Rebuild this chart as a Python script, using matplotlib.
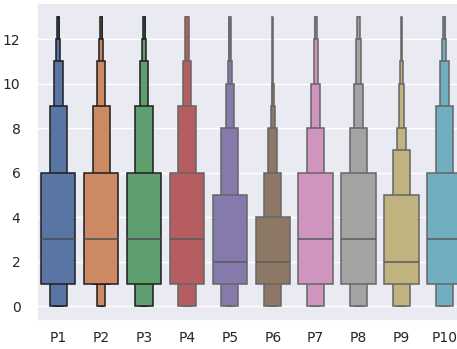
import matplotlib
matplotlib.use("Agg")
import matplotlib.pyplot as plt
import seaborn as sns
import numpy as np

# ---- data (letter values) ----
categories = ["P1", "P2", "P3", "P4", "P5", "P6", "P7", "P8", "P9", "P10"]
medians = [3, 3, 3, 3, 2, 2, 3, 3, 2, 3]
# one list per letter-value level (level 1 = widest box = IQR)
level1_lo = [1, 1, 1, 1, 1, 1, 1, 1, 1, 1]
level1_hi = [6, 6, 6, 6, 5, 4, 6, 6, 5, 6]
level2_lo = [0, 1, 0, 0, 0, 0, 0, 0, 0, 0]
level2_hi = [9, 9, 9, 9, 8, 6, 8, 8, 7, 9]
level3_lo = [0, 0, 0, 0, 0, 0, 0, 0, 0, 0]
level3_hi = [11, 11, 11, 11, 10, 8, 10, 10, 8, 11]
level4_lo = [0, 0, 0, 0, 0, 0, 0, 0, 0, 0]
level4_hi = [12, 12, 12, 13, 11, 9, 12, 12, 10, 12]
level5_lo = [0, 0, 0, 0, 0, 0, 0, 0, 0, 0]
level5_hi = [13, 13, 13, 13, 13, 10, 13, 13, 11, 13]
level6_lo = [0, 0, 0, 0, 0, 0, 0, 0, 0, 0]
level6_hi = [13, 13, 13, 13, 13, 13, 13, 13, 13, 13]
y_ticks = [0, 2, 4, 6, 8, 10, 12]

levels_lo = [level1_lo, level2_lo, level3_lo, level4_lo, level5_lo, level6_lo]
levels_hi = [level1_hi, level2_hi, level3_hi, level4_hi, level5_hi, level6_hi]

# ---- styles ----
sns.set_theme(style="darkgrid")
plt.rcParams["font.family"] = ["DejaVu Sans"]
fills = list(sns.color_palette("deep", 10, desat=0.75))
fills[7] = "#a3a3a3"
edges = ["#1e1e1e"] * 3 + ["#666666"] * 7
median_colors = ["#4d4d55"] * 3 + ["#5a5a5a"] * 7

W, H = 457, 349
fig = plt.figure(figsize=(W / 100, H / 100), dpi=100)
ax = fig.add_axes([36.8 / W, (H - 320.5) / H, 429 / W, 318 / H])

x = np.arange(len(categories))
base_width = 0.8
n_levels = len(levels_lo)
for k in range(n_levels - 1, -1, -1):
    lo = np.array(levels_lo[k], dtype=float)
    hi = np.array(levels_hi[k], dtype=float)
    w = base_width * 0.5 ** k
    ax.bar(x, hi - lo, bottom=lo, width=w, color=fills, edgecolor=edges,
           linewidth=1.1, zorder=2 + (n_levels - k) * 0.1)

for i in range(len(categories)):
    ax.plot([x[i] - base_width / 2, x[i] + base_width / 2], [medians[i]] * 2,
            color=median_colors[i], linewidth=1.1, zorder=3, solid_capstyle="butt")

ax.set_xlim(-0.5, len(categories) - 0.5)
ax.set_ylim(-0.65, 13.65)
ax.set_xticks(x)
ax.set_xticklabels(categories)
ax.set_yticks(y_ticks)
ax.grid(axis="x", visible=False)
xpad = plt.rcParams["xtick.major.pad"]
ypad = plt.rcParams["ytick.major.pad"]
ax.tick_params(axis="x", labelsize=10, pad=xpad - 1.8)
ax.tick_params(axis="y", labelsize=10, pad=ypad + 2.2)

fig.savefig("out.png", dpi=100)
